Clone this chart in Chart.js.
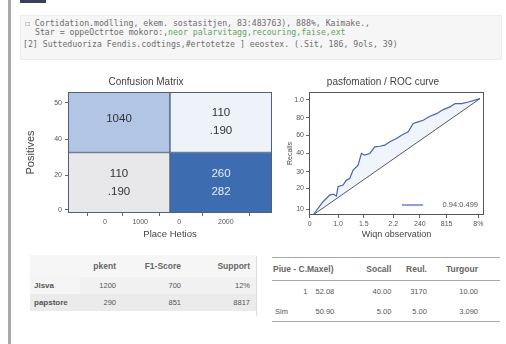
<!DOCTYPE html>
<html>
<head>
<meta charset="utf-8">
<script src="https://cdn.jsdelivr.net/npm/chart.js@4.4.1/dist/chart.umd.min.js"></script>
<style>
  body { margin: 0; width: 506px; height: 344px; background: #fff; position: relative; overflow: hidden;
         font-family: "Liberation Sans", Arial, sans-serif; }
  .sidebar { position: absolute; left: 8px; top: 0; width: 3px; height: 344px; background: #a9a9a9; }
  .blob { position: absolute; left: 20px; top: 0; width: 26px; height: 3px; background: #3b3f5c; }
  .code { position: absolute; left: 20px; top: 15px; width: 482px; height: 45px; background: #f6f6f6;
          border: 1px solid #ececec; box-sizing: border-box; font-family: "DejaVu Sans Mono", monospace;
          font-size: 8.2px; color: #6d6d6d; }
  .code div { position: absolute; white-space: pre; }
  .code .g { color: #5fa35f; }
  .box { position: absolute; }
  table { border-collapse: collapse; font-size: 7.5px; color: #555; }
  #t1 { position: absolute; left: 30px; top: 255px; width: 226px; background: #f1f1f1; }
  #t1 th { font-weight: bold; font-size: 8.5px; text-align: right; height: 22px; padding: 0 6px 0 0; color: #666; background: #f6f6f6; }
  #t1 td { text-align: right; height: 17px; padding: 0 6px 0 0; }
  #t1 td.ix { text-align: left; padding-left: 4px; font-weight: bold; font-size: 8px; background: #f5f5f5; }
  #t1 tr.r2 td { background: #ebebeb; }
  .scroll { position: absolute; left: 256px; top: 256px; width: 2px; height: 60px; border-left: 1px solid #ddd; }
  #t2 { position: absolute; left: 272px; top: 257px; width: 228px; border-top: 1px solid #aaa; border-bottom: 1px solid #aaa; }
  #t2 th { font-weight: bold; font-size: 8.5px; height: 22px; text-align: right; padding: 0; color: #666; border-bottom: 1px solid #aaa; }
  #t2 td { height: 20px; text-align: right; padding: 0; }
</style>
</head>
<body>
<div class="sidebar"></div>
<div class="blob"></div>
<div class="code">
  <div style="left:4px;top:2px">☐ Cortidation.modlling, ekem. sostasitjen, 83:483763), 888%, Kaimake.,</div>
  <div style="left:14px;top:11px">Star = oppeOctrtoe mokoro:,<span class="g">neor palarvitagg,recouring,faise,ext</span></div>
  <div style="left:2px;top:23px">[2] Sutteduoriza Fendis.codtings,#ertotetze ] eeostex. (.Sit, 186, 9ols, 39)</div>
</div>

<div class="box" style="left:20px;top:72px;width:262px;height:172px"><canvas id="cm"></canvas></div>
<div class="box" style="left:282px;top:72px;width:222px;height:172px"><canvas id="roc"></canvas></div>

<table id="t1">
  <tr><th style="width:44px"></th><th style="width:36px">pkent</th><th style="width:59px">F1-Score</th><th>Support</th></tr>
  <tr><td class="ix">Jlsva</td><td>1200</td><td>700</td><td>12%</td></tr>
  <tr class="r2"><td class="ix">papstore</td><td>290</td><td>851</td><td>8817</td></tr>
</table>
<div class="scroll"></div>

<table id="t2">
  <tr><th colspan="2" style="text-align:left;padding-left:1px">Piue - C.Maxel)</th><th style="width:45px">Socall</th><th style="width:37px">Reul.</th><th style="width:53px;padding-right:22px">Turgour</th></tr>
  <tr><td style="width:38px;padding-right:6px">1</td><td style="width:34px;text-align:left;padding-left:2px">52.08</td><td>40.00</td><td>3170</td><td style="padding-right:22px">10.00</td></tr>
  <tr><td style="text-align:left;padding-left:3px">Sim</td><td style="text-align:left;padding-left:2px">50.90</td><td>5.00</td><td>5.00</td><td style="padding-right:22px">3.090</td></tr>
</table>

<script>
// confusion matrix cells: bottom row then top row, left and right column
const matrixCols = ['neg', 'pos'];
const rowBottom = [1, 1];
const rowTop = [1, 1];
const bottomColors = ['#e8e8ea', '#3e6cb0'];
const topColors = ['#b2c5e5', '#eef2f9'];
const bottomText = [['110', '.190'], ['260', '282']];
const topText = [['1040'], ['110', '.190']];
const cmYTickPos = [0.05, 0.62, 1.22, 1.82];
const cmYTickLabels = ['0', '20', '40', '50'];
const cmXTickPos = [0.15, 0.61, 1.12, 1.73];
const cmXTickLabels = ['0', '1000', '0', '2000'];

// ROC curve
const rocX = [0, .06, .10, .12, .14, .15, .18, .20, .22, .24, .27, .29, .31, .34, .37, .40, .43, .46, .50, .53, .57, .60, .63, .66, .70, .74, .78, .82, .85, .89, .93, 1];
const rocY = [0, .114, .171, .18, .163, .243, .257, .30, .314, .386, .429, .529, .514, .529, .586, .591, .60, .629, .657, .686, .714, .786, .80, .814, .849, .871, .906, .929, .957, .957, .971, 1];
const diagX = [0, 1];
const diagY = [0, 1];
const rocYTickPos = [0.049, 0.229, 0.371, 0.529, 0.686, 0.834, 0.991];
const rocYTickLabels = ['10', '20', '30', '40', '60', '80', '1.0'];
const rocXTickPos = [-0.02, 0.15, 0.304, 0.48, 0.64, 0.80, 0.99];
const rocXTickLabels = ['0', '1.0', '1.5', '2.2', '240', '815', '8%'];

Chart.defaults.font.family = '"Liberation Sans", Arial, sans-serif';
Chart.defaults.color = '#555';
Chart.defaults.animation = false;
Chart.defaults.maintainAspectRatio = false;

const frame = {
  id: 'frame',
  afterDraw(chart) {
    const a = chart.chartArea, c = chart.ctx;
    c.save();
    c.strokeStyle = chart.options.plugins.frame.color;
    c.lineWidth = 1;
    c.strokeRect(a.left + 0.5, a.top + 0.5, a.right - a.left - 1, a.bottom - a.top - 1);
    c.restore();
  }
};

const cellText = {
  id: 'cellText',
  afterDatasetsDraw(chart) {
    const c = chart.ctx;
    const texts = [bottomText, topText];
    c.save();
    c.font = '11.5px "Liberation Sans", Arial, sans-serif';
    c.textAlign = 'center';
    c.textBaseline = 'middle';
    chart.data.datasets.forEach((ds, d) => {
      chart.getDatasetMeta(d).data.forEach((bar, i) => {
        const lines = texts[d][i];
        const cy = (bar.y + bar.base) / 2;
        c.fillStyle = (d === 0 && i === 1) ? '#e6eef9' : '#333';
        lines.forEach((t, k) => {
          const off = lines.length === 1 ? -3 : (k === 0 ? -9 : 9);
          c.fillText(t, bar.x, cy + off);
        });
      });
    });
    c.restore();
  }
};

const tickFont = { size: 7 };
const titleFont = { size: 10, weight: 'normal' };

new Chart(document.getElementById('cm'), {
  type: 'bar',
  data: {
    labels: matrixCols,
    datasets: [
      { data: rowBottom, backgroundColor: bottomColors, borderColor: '#4f607c', borderWidth: 1, borderSkipped: false },
      { data: rowTop, backgroundColor: topColors, borderColor: '#4f607c', borderWidth: 1, borderSkipped: false }
    ]
  },
  options: {
    barPercentage: 1,
    categoryPercentage: 1,
    layout: { padding: { left: 0, right: 10, top: 0, bottom: 0 } },
    plugins: {
      legend: { display: false },
      tooltip: { enabled: false },
      title: { display: true, text: 'Confusion Matrix', color: '#444', font: titleFont, padding: { top: 4, bottom: 4 } },
      frame: { color: '#4f607c' }
    },
    scales: {
      x: { stacked: true, display: false },
      x2: {
        type: 'linear', position: 'bottom', min: 0, max: 2,
        afterBuildTicks: s => { s.ticks = cmXTickPos.map(v => ({ value: v })); },
        ticks: { font: tickFont, padding: 2, maxRotation: 0, autoSkip: false, callback: (v, i) => cmXTickLabels[i] },
        grid: { drawOnChartArea: false, tickLength: 3, color: '#666' },
        border: { display: false },
        title: { display: true, text: 'Place Hetios', color: '#444', font: { size: 9.5 }, padding: { top: 0 } },
        afterFit: s => { s.height = 31; }
      },
      y: {
        stacked: true, min: 0, max: 2,
        afterBuildTicks: s => { s.ticks = cmYTickPos.map(v => ({ value: v })); },
        ticks: { font: tickFont, padding: 3, autoSkip: false, callback: (v, i) => cmYTickLabels[i] },
        grid: { drawOnChartArea: false, tickLength: 3, color: '#666' },
        border: { display: false },
        title: { display: true, text: 'Positives', color: '#444', font: { size: 11 }, padding: { bottom: 4 } },
        afterFit: s => { s.width = 48; }
      }
    }
  },
  plugins: [cellText, frame]
});

const rocLegend = {
  id: 'rocLegend',
  afterDraw(chart) {
    const a = chart.chartArea, c = chart.ctx;
    const y = a.bottom - 10;
    c.save();
    c.strokeStyle = chart.data.datasets[0].borderColor;
    c.lineWidth = 1.2;
    c.beginPath();
    c.moveTo(a.right - 82, y);
    c.lineTo(a.right - 61, y);
    c.stroke();
    c.fillStyle = '#555';
    c.font = '7.5px "Liberation Sans", Arial, sans-serif';
    c.textAlign = 'right';
    c.textBaseline = 'middle';
    c.fillText(chart.data.datasets[0].label, a.right - 6, y);
    c.restore();
  }
};

new Chart(document.getElementById('roc'), {
  type: 'scatter',
  data: {
    datasets: [
      {
        label: '0.94:0.499',
        data: rocX.map((x, i) => ({ x, y: rocY[i] })),
        showLine: true, borderColor: '#4563b8', borderWidth: 1.2, pointRadius: 0,
        fill: { target: 1 }, backgroundColor: 'rgba(110,150,225,0.10)'
      },
      {
        label: 'chance',
        data: diagX.map((x, i) => ({ x, y: diagY[i] })),
        showLine: true, borderColor: '#555', borderWidth: 1, pointRadius: 0, fill: false
      }
    ]
  },
  options: {
    layout: { padding: { left: 0, right: 20, top: 0, bottom: 0 } },
    plugins: {
      legend: { display: false },
      tooltip: { enabled: false },
      title: { display: true, text: 'pasfomation / ROC curve', color: '#444', font: titleFont, padding: { top: 4, bottom: 4 } },
      frame: { color: '#555' }
    },
    scales: {
      x: {
        min: -0.024, max: 1.024,
        afterBuildTicks: s => { s.ticks = rocXTickPos.map(v => ({ value: v })); },
        ticks: { font: tickFont, padding: 2, maxRotation: 0, autoSkip: false, callback: (v, i) => rocXTickLabels[i] },
        grid: { drawOnChartArea: false, tickLength: 3, color: '#666' },
        border: { display: false },
        title: { display: true, text: 'Wiqn observation', color: '#444', font: { size: 9 }, padding: { top: 0 } },
        afterFit: s => { s.height = 29; }
      },
      y: {
        min: 0, max: 1.057,
        afterBuildTicks: s => { s.ticks = rocYTickPos.map(v => ({ value: v })); },
        ticks: { font: tickFont, padding: 2, autoSkip: false, callback: (v, i) => rocYTickLabels[i] },
        grid: { drawOnChartArea: false, tickLength: 3, color: '#666' },
        border: { display: false },
        title: { display: true, text: 'Recalls', color: '#444', font: { size: 7 }, padding: { bottom: 0 } },
        afterFit: s => { s.width = 27; }
      }
    }
  },
  plugins: [rocLegend, frame]
});
</script>
</body>
</html>
